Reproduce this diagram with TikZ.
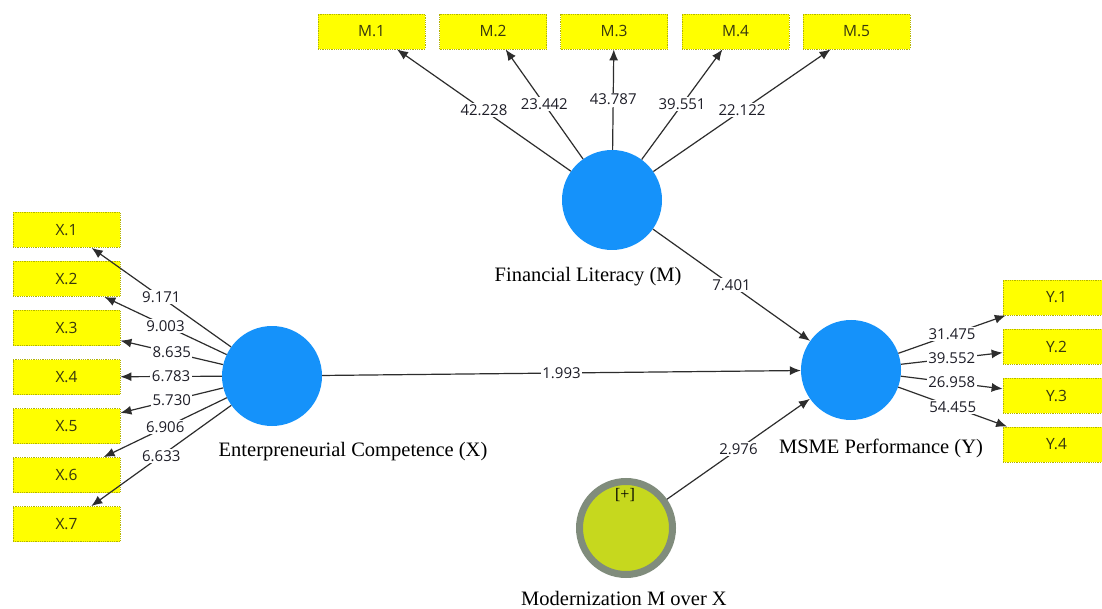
\documentclass[tikz,border=0pt]{standalone}
\usepackage{fontspec}
\usepackage{tikz}
\usetikzlibrary{arrows.meta}
\newfontfamily\plsfont{Open Sans}
\newfontfamily\lvfont{Liberation Serif}
\definecolor{lvblue}{RGB}{21,146,250}
\definecolor{indyellow}{RGB}{255,255,0}
\definecolor{indrule}{RGB}{180,180,0}
\definecolor{indtext}{RGB}{55,55,15}
\definecolor{modfill}{RGB}{198,216,30}
\definecolor{modring}{RGB}{128,140,124}
\definecolor{pathgray}{RGB}{45,45,45}
\definecolor{coeftext}{RGB}{30,30,40}
\tikzset{
  indbox/.style={rectangle,fill=indyellow,draw=indrule,densely dotted,line width=0.8pt,
    minimum width=107,minimum height=35,inner sep=0pt,text=indtext,
    font=\plsfont\fontsize{15.5}{18}\selectfont},
  latent/.style={circle,fill=lvblue,minimum size=100,inner sep=0pt},
  modlv/.style={circle,fill=modfill,draw=modring,line width=7pt,minimum size=93,inner sep=0pt},
  lvname/.style={text=black,font=\lvfont\fontsize{20.5}{24}\selectfont},
  plspath/.style={draw=pathgray,line width=1.2pt,-{Latex[length=11pt,width=9pt]}},
  coef/.style={midway,fill=white,inner sep=1.5pt,text=coeftext,
    font=\plsfont\fontsize{15}{18}\selectfont}
}
\begin{document}
\begin{tikzpicture}[x=1pt,y=-1pt]
\useasboundingbox[fill=white] (0,0) rectangle (1102,609);

% latent variables
\node[latent] (ec) at (272,376) {};
\node[latent] (fl) at (612,200) {};
\node[latent] (perf) at (851,370) {};
\node[modlv] (mod) at (626,528) {};
\node[font=\lvfont\fontsize{16}{18}\selectfont] (plus) at (625,495) {[+]};

\node[lvname] (ecname) at (353,452) {Enterpreneurial Competence (X)};
\node[lvname] (flname) at (588,277) {Financial Literacy (M)};
\node[lvname] (perfname) at (881,448) {MSME Performance (Y)};
\node[lvname] (modname) at (624,598) {Modernization M over X};

% indicators
\node[indbox] (x1) at (66.5,230) {X.1};
\node[indbox] (x2) at (66.5,279) {X.2};
\node[indbox] (x3) at (66.5,328) {X.3};
\node[indbox] (x4) at (66.5,377) {X.4};
\node[indbox] (x5) at (66.5,426) {X.5};
\node[indbox] (x6) at (66.5,475) {X.6};
\node[indbox] (x7) at (66.5,524) {X.7};

\node[indbox] (m1) at (371.5,31.5) {M.1};
\node[indbox] (m2) at (493,31.5) {M.2};
\node[indbox] (m3) at (614,31.5) {M.3};
\node[indbox] (m4) at (735.5,31.5) {M.4};
\node[indbox] (m5) at (856.5,31.5) {M.5};

\node[indbox] (y1) at (1056.5,297.5) {Y.1};
\node[indbox] (y2) at (1056.5,346.5) {Y.2};
\node[indbox] (y3) at (1056.5,395.5) {Y.3};
\node[indbox] (y4) at (1056.5,444.5) {Y.4};

% outer loadings
\draw[plspath] (ec) -- (x1) node[coef] {9.171};
\draw[plspath] (ec) -- (x2) node[coef] {9.003};
\draw[plspath] (ec) -- (x3) node[coef] {8.635};
\draw[plspath] (ec) -- (x4) node[coef] {6.783};
\draw[plspath] (ec) -- (x5) node[coef] {5.730};
\draw[plspath] (ec) -- (x6) node[coef] {6.906};
\draw[plspath] (ec) -- (x7) node[coef] {6.633};

\draw[plspath] (fl) -- (m1) node[coef] {42.228};
\draw[plspath] (fl) -- (m2) node[coef] {23.442};
\draw[plspath] (fl) -- (m3) node[coef] {43.787};
\draw[plspath] (fl) -- (m4) node[coef] {39.551};
\draw[plspath] (fl) -- (m5) node[coef] {22.122};

\draw[plspath] (perf) -- (y1) node[coef] {31.475};
\draw[plspath] (perf) -- (y2) node[coef] {39.552};
\draw[plspath] (perf) -- (y3) node[coef] {26.958};
\draw[plspath] (perf) -- (y4) node[coef] {54.455};

% inner model
\draw[plspath] (ec) -- (perf) node[coef] {1.993};
\draw[plspath] (fl) -- (perf) node[coef] {7.401};
\draw[plspath] (mod) -- (perf) node[coef] {2.976};

\end{tikzpicture}
\end{document}
